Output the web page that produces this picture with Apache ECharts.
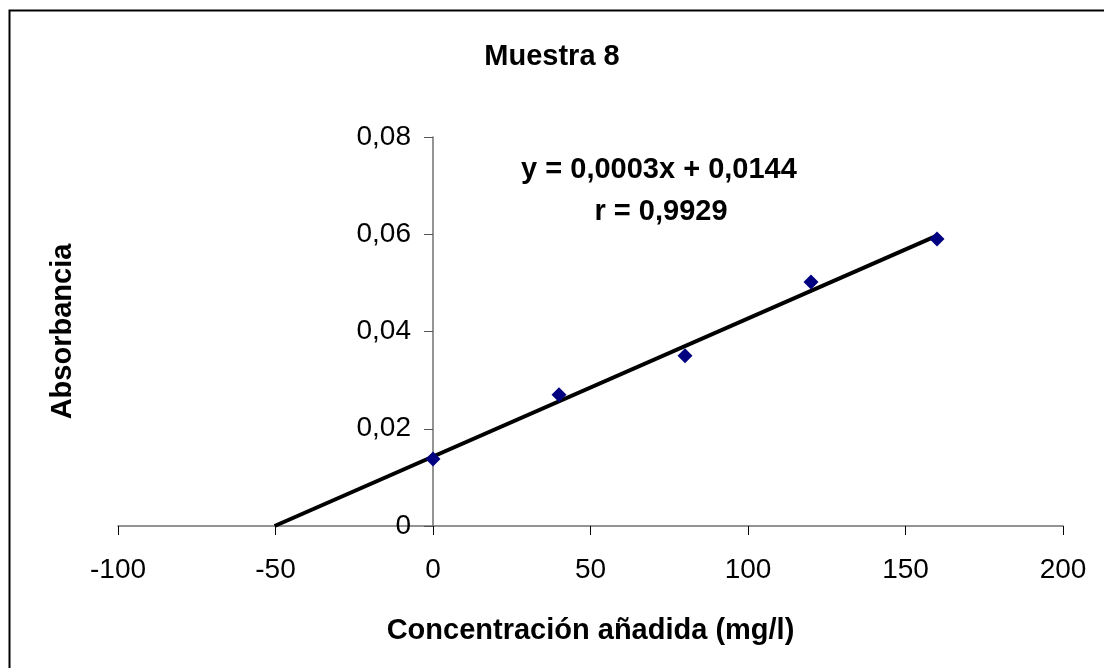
<!DOCTYPE html>
<html>
<head>
<meta charset="utf-8">
<script src="https://cdn.jsdelivr.net/npm/echarts@6/dist/echarts.min.js"></script>
<style>
  html, body {margin: 0; padding: 0; background: #fff;}
  #chart {width: 1104px; height: 668px;}
</style>
</head>
<body>
<div id="chart"></div>
<script>
// valores
const concentracion = [0, 40, 80, 120, 160]
const absorbancia = [0.0138, 0.027, 0.035, 0.0502, 0.059]
const xTicks = [-100, -50, 0, 50, 100, 150, 200]
const yTicks = [0, 0.02, 0.04, 0.06, 0.08]
const ecuacion = 'y = 0,0003x + 0,0144'
const coefR = 'r = 0,9929'

// recta de regresión por mínimos cuadrados
const n = concentracion.length
const mx = concentracion.reduce((a, b) => a + b, 0) / n
const my = absorbancia.reduce((a, b) => a + b, 0) / n
let sxy = 0
let sxx = 0
concentracion.forEach((x, i) => {
  sxy += (x - mx) * (absorbancia[i] - my)
  sxx += (x - mx) * (x - mx)
})
const pendiente = sxy / sxx
const ordenada = my - pendiente * mx
const xCorte = -ordenada / pendiente
const xFin = concentracion[n - 1]
const recta = [[xCorte, 0], [xFin, ordenada + pendiente * xFin]]

const puntos = concentracion.map((x, i) => [x, absorbancia[i]])
const fmt = (v) => String(v).replace('.', ',')
const font = 'Liberation Sans, Arial, sans-serif'

// el eje Y cruza en x = 0
const grid = {left: 118, right: 41, top: 137, bottom: 142}
const xMin = xTicks[0]
const xMax = xTicks[xTicks.length - 1]
const anchoGrid = 1104 - grid.left - grid.right
const desplazY = -((0 - xMin) / (xMax - xMin)) * anchoGrid

const chart = echarts.init(document.getElementById('chart'), null, {renderer: 'canvas'})
chart.setOption({
  animation: false,
  textStyle: {fontFamily: font},
  title: {
    text: 'Muestra 8',
    left: 'center',
    top: 37,
    textStyle: {fontSize: 29, fontWeight: 'bold', color: '#000', fontFamily: font},
  },
  grid: {...grid, outerBoundsMode: 'none', containLabel: false},
  xAxis: {
    type: 'value',
    min: xMin,
    max: xMax,
    interval: 50,
    splitLine: {show: false},
    axisLine: {onZero: false, lineStyle: {color: '#707070', width: 1.5}},
    axisTick: {show: true, length: 9, lineStyle: {color: '#000'}},
    axisLabel: {fontSize: 28, color: '#000', margin: 30, fontFamily: font},
    name: 'Concentración añadida (mg/l)',
    nameLocation: 'middle',
    nameGap: 90,
    nameTextStyle: {fontSize: 29, fontWeight: 'bold', color: '#000', fontFamily: font},
  },
  yAxis: {
    type: 'value',
    min: yTicks[0],
    max: yTicks[yTicks.length - 1],
    interval: 0.02,
    offset: desplazY,
    splitLine: {show: false},
    axisLine: {show: true, onZero: false, lineStyle: {color: '#707070', width: 1.5}},
    axisTick: {show: true, length: 9, lineStyle: {color: '#555'}},
    axisLabel: {fontSize: 28, color: '#000', margin: 22, fontFamily: font, formatter: (v) => fmt(+v.toFixed(2))},
    name: 'Absorbancia',
    nameLocation: 'middle',
    nameGap: 356,
    nameRotate: 90,
    nameTextStyle: {fontSize: 29, fontWeight: 'bold', color: '#000', fontFamily: font},
  },
  graphic: [
    {
      type: 'rect',
      left: 7,
      top: 8,
      shape: {width: 1120, height: 680},
      style: {fill: 'none', stroke: '#000', lineWidth: 2},
      silent: true,
    },
    {
      type: 'text',
      x: 659,
      y: 170,
      style: {text: ecuacion, font: 'bold 29px ' + font, fill: '#000', align: 'center', verticalAlign: 'middle'},
    },
    {
      type: 'text',
      x: 661,
      y: 212,
      style: {text: coefR, font: 'bold 29px ' + font, fill: '#000', align: 'center', verticalAlign: 'middle'},
    },
  ],
  series: [
    {
      type: 'line',
      data: recta,
      symbol: 'none',
      lineStyle: {color: '#000', width: 4},
      z: 2,
    },
    {
      type: 'scatter',
      data: puntos,
      symbol: 'diamond',
      symbolSize: [15, 15],
      itemStyle: {color: '#000080', opacity: 1},
      z: 3,
    },
  ],
})
</script>
</body>
</html>
